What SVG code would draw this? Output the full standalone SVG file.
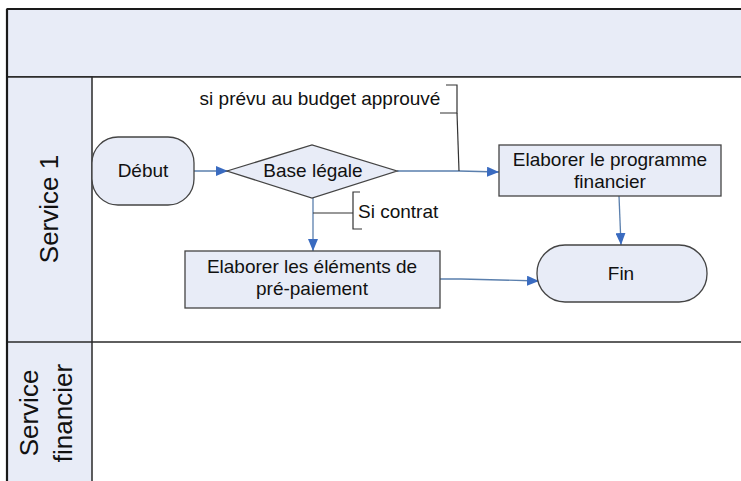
<svg xmlns="http://www.w3.org/2000/svg" width="741" height="481" viewBox="0 0 741 481">
<defs>
<style>
.bg{fill:#ffffff}
.hdr{fill:#e8ecf7;stroke:#2a2a2a;stroke-width:1.5}
.node{fill:#e8ecf7;stroke:#444;stroke-width:1.3}
.t{font-family:"Liberation Sans",Arial,sans-serif;font-size:19px;fill:#111;text-anchor:middle}
.lt{font-family:"Liberation Sans",Arial,sans-serif;font-size:26px;fill:#111;text-anchor:middle}
.c{fill:none;stroke:#5a7fad;stroke-width:1.3}
.br{fill:none;stroke:#333;stroke-width:1.2}
</style>
<marker id="ah" viewBox="0 0 12 10" refX="12" refY="5" markerWidth="12" markerHeight="10" markerUnits="userSpaceOnUse" orient="auto">
<path d="M0,0 L12,5 L0,10 Z" fill="#3a6bc0"/>
</marker>
</defs>
<rect class="bg" x="0" y="0" width="741" height="481"/>
<g id="pool">
<rect class="hdr" x="7" y="9" width="740" height="68"/>
<rect x="7" y="77" width="740" height="410" fill="#fff" stroke="#2a2a2a" stroke-width="1.5"/>
<rect class="hdr" x="7" y="77" width="85" height="410"/>
<line x1="7" y1="342" x2="741" y2="342" stroke="#2a2a2a" stroke-width="1.5"/>
<line x1="7" y1="9" x2="7" y2="481" stroke="#1a1a1a" stroke-width="2.2"/>
<line x1="7" y1="9" x2="741" y2="9" stroke="#1a1a1a" stroke-width="2.2"/>
</g>
<g id="lane-service1">
<text class="lt" transform="translate(58,209) rotate(-90)">Service 1</text>
</g>
<g id="lane-financier">
<text class="lt" transform="translate(38,413) rotate(-90)">Service</text>
<text class="lt" transform="translate(72,413) rotate(-90)">financier</text>
</g>
<g id="connectors">
<line class="c" x1="194" y1="171" x2="228" y2="171" marker-end="url(#ah)"/>
<polyline class="c" points="397,171 459,171 499,172" marker-end="url(#ah)"/>
<line class="c" x1="313" y1="198" x2="313" y2="251" marker-end="url(#ah)"/>
<polyline class="c" points="440,279 461,279 539,281" marker-end="url(#ah)"/>
<line class="c" x1="619" y1="196" x2="621" y2="245" marker-end="url(#ah)"/>
<polyline class="br" points="446,85 457,85 457,113 440,113"/>
<line class="br" x1="457" y1="113" x2="459" y2="171"/>
<line class="br" x1="313" y1="213" x2="353" y2="213"/>
<polyline class="br" points="360,192 353,192 353,229 362,229"/>
<text class="t" x="320" y="105">si prévu au budget approuvé</text>
<text class="t" x="358" y="218" style="text-anchor:start">Si contrat</text>
</g>
<g id="debut">
<rect class="node" x="92" y="137" width="102" height="68" rx="26" ry="26"/>
<text class="t" x="143" y="177">Début</text>
</g>
<g id="base-legale">
<polygon class="node" points="227,171 312,145 397,171 312,198"/>
<text class="t" x="313" y="177">Base légale</text>
</g>
<g id="programme">
<rect class="node" x="499" y="145" width="222" height="51"/>
<text class="t" x="610" y="166">Elaborer le programme</text>
<text class="t" x="610" y="188">financier</text>
</g>
<g id="prepaiement">
<rect class="node" x="185" y="251" width="255" height="57"/>
<text class="t" x="312" y="273">Elaborer les éléments de</text>
<text class="t" x="312" y="295">pré-paiement</text>
</g>
<g id="fin">
<rect class="node" x="537" y="245" width="170" height="57" rx="28" ry="28"/>
<text class="t" x="621" y="280">Fin</text>
</g>
</svg>
